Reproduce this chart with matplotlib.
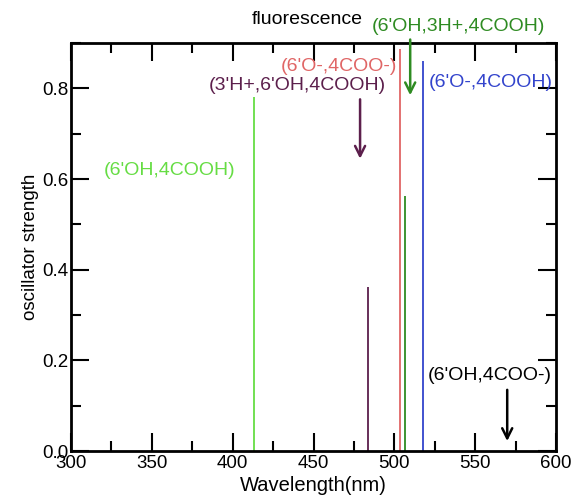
import numpy as np
import matplotlib.pyplot as plt
from matplotlib.ticker import MultipleLocator

plt.rcParams['font.family'] = ['Liberation Sans', 'DejaVu Sans']

# excitation lines (nm, oscillator strength)
species = ["(6'OH,4COOH)", "(3'H+,6'OH,4COOH)", "(6'O-,4COO-)", "(6'OH,3H+,4COOH)", "(6'O-,4COOH)"]
wavelength = [413.2, 483.5, 503.3, 506.4, 517.8]
strength = [0.782, 0.362, 0.886, 0.563, 0.860]
colors = ['#66dd44', '#5c1f4c', '#e06666', '#2e8b22', '#3344cc']

# fluorescence arrows (x, y_start, y_end)
arrow_x = [478.8, 509.8, 569.8]
arrow_y0 = [0.776, 0.908, 0.135]
arrow_y1 = [0.645, 0.785, 0.022]
arrow_colors = ['#5c1f4c', '#2e8b22', 'black']

fig = plt.figure(figsize=(5.78, 4.96), dpi=100)
ax = fig.add_axes([0.1228, 0.0907, 0.8392, 0.8223])

ax.vlines(wavelength, 0, strength, colors=colors, linewidth=1.3)

for x, y0, y1, c in zip(arrow_x, arrow_y0, arrow_y1, arrow_colors):
    ax.annotate('', xy=(x, y1), xytext=(x, y0),
                arrowprops=dict(arrowstyle='->', color=c, lw=1.8,
                                mutation_scale=18, shrinkA=0, shrinkB=0))

fs = 14
ax.text(361, 0.62, species[0], color=colors[0], fontsize=fs, ha='center', va='center')
ax.text(440, 0.807, species[1], color=colors[1], fontsize=fs, ha='center', va='center')
ax.text(502, 0.849, species[2], color=colors[2], fontsize=fs, ha='right', va='center')
ax.text(539.5, 0.937, species[3], color=colors[3], fontsize=fs, ha='center', va='center', clip_on=False)
ax.text(559.5, 0.813, species[4], color=colors[4], fontsize=fs, ha='center', va='center')
ax.text(446, 0.952, 'fluorescence', color='black', fontsize=fs, ha='center', va='center', clip_on=False)
ax.text(559, 0.166, "(6'OH,4COO-)", color='black', fontsize=fs, ha='center', va='center')

ax.set_xlim(300, 600)
ax.set_ylim(0, 0.9)
ax.xaxis.set_major_locator(MultipleLocator(50))
ax.xaxis.set_minor_locator(MultipleLocator(25))
ax.yaxis.set_major_locator(MultipleLocator(0.2))
ax.yaxis.set_minor_locator(MultipleLocator(0.1))
ax.yaxis.set_major_formatter(lambda v, p: f'{v:.1f}')

ax.tick_params(which='both', direction='in', top=True, right=True, width=1.5, labelsize=13.5)
ax.tick_params(which='major', length=13)
ax.tick_params(which='minor', length=7)
ax.tick_params(axis='x', which='major', pad=3)
ax.tick_params(axis='y', which='major', pad=2)
for s in ax.spines.values():
    s.set_linewidth(2)

ax.set_xlabel('Wavelength(nm)', fontsize=14.5, labelpad=3)
ax.set_ylabel('oscillator strength', fontsize=13.5, labelpad=2)

fig.savefig('out.png', dpi=100)
